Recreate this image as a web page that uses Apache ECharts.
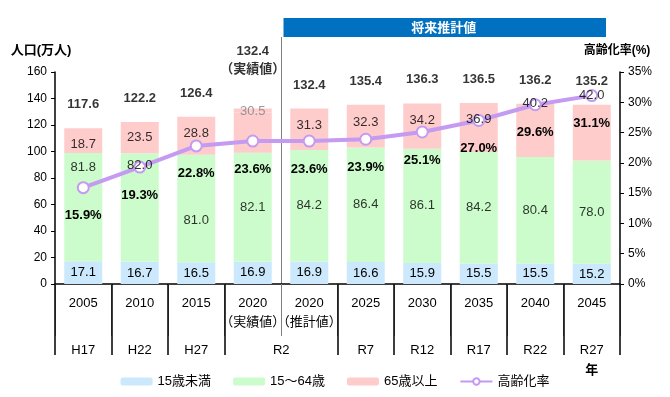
<!DOCTYPE html>
<html>
<head>
<meta charset="utf-8">
<script src="https://cdn.jsdelivr.net/npm/echarts@6/dist/echarts.min.js"></script>
<style>
  html, body { margin: 0; padding: 0; background: #fff; }
  #chart { width: 670px; height: 397px; }
</style>
</head>
<body>
<div id="chart"></div>
<script>
// 年次（西暦）と元号
const years = ["2005", "2010", "2015", "2020\n（実績値）", "2020\n（推計値）", "2025", "2030", "2035", "2040", "2045"];
const eras = ["H17", "H22", "H27", "R2", "", "R7", "R12", "R17", "R22", "R27"];

// 人口（万人）
const young = [17.1, 16.7, 16.5, 16.9, 16.9, 16.6, 15.9, 15.5, 15.5, 15.2];   // 15歳未満
const working = [81.8, 82.0, 81.0, 82.1, 84.2, 86.4, 86.1, 84.2, 80.4, 78.0]; // 15～64歳
const aged = [18.7, 23.5, 28.8, 30.5, 31.3, 32.3, 34.2, 36.9, 40.2, 42.0];    // 65歳以上
const unknown = [0, 0, 0, 2.9, 0, 0, 0, 0, 0, 0];                             // 年齢不詳
const totals = [117.6, 122.2, 126.4, 132.4, 132.4, 135.4, 136.3, 136.5, 136.2, 135.2];

// 高齢化率（%）
const agingRate = [15.9, 19.3, 22.8, 23.6, 23.6, 23.9, 25.1, 27.0, 29.6, 31.1];

const FONT = '"Liberation Sans", "Noto Sans CJK JP", sans-serif';
const BLUE = "#cce8fc", GREEN = "#ccfccc", PINK = "#ffcccc", PURPLE = "#c49af2";

// ラベル位置の微調整（元図に合わせる, px）
const workingDy = [-40, -42, 12, 0, 0, 0, 0, 0, 0, 0];
const agedDy = [4, 0, -2, -21, -4, -4, -6, -8, -27, -37];

const chart = echarts.init(document.getElementById("chart"));
const fmt1 = v => Number(v).toFixed(1);

// 折れ線より手前に出すラベル用（各区間の中央に置く）
function midLabelSeries(name, mids, texts, dys, colorOf) {
  return {
    name: name, type: "scatter", symbolSize: 1, z: 6,
    itemStyle: { color: "transparent" },
    label: { show: true, position: "inside", fontSize: 13, color: "#000" },
    data: mids.map((m, i) => ({
      value: m,
      label: {
        formatter: fmt1(texts[i]),
        offset: [0, dys[i]],
        color: colorOf ? colorOf(i) : "#000"
      }
    }))
  };
}

chart.setOption({
  animation: false,
  textStyle: { fontFamily: FONT },
  grid: { left: 55, right: 50, top: 72, bottom: 113, containLabel: false },
  legend: {
    data: ["15歳未満", "15～64歳", "65歳以上", "高齢化率"],
    top: 370,
    left: "center",
    itemWidth: 32,
    itemHeight: 8,
    itemGap: 22,
    textStyle: { fontSize: 13, color: "#000", fontFamily: FONT }
  },
  xAxis: [
    {
      type: "category",
      data: years,
      axisLine: { lineStyle: { color: "#000", width: 1.5 } },
      axisTick: { show: true, interval: 0, length: 52, lineStyle: { color: "#808080", width: 1 } },
      axisLabel: { interval: 0, margin: 10, fontSize: 13, color: "#000", lineHeight: 19 }
    },
    {
      type: "category",
      position: "bottom",
      data: eras.map((e, i) => i === 3 ? { value: e, textStyle: { padding: [0, 0, 0, 57] } } : e),
      axisLine: { show: false },
      axisTick: {
        show: true,
        interval: i => i !== 4,
        length: 71,
        lineStyle: { color: "#000", width: 1.5 }
      },
      axisLabel: {
        interval: 0,
        margin: 56,
        fontSize: 13,
        color: "#000",
        lineHeight: 20,
        formatter: (v, i) => i === 9 ? v + "\n{n|年}" : v,
        rich: { n: { fontSize: 13, fontWeight: "bold", color: "#000", lineHeight: 20 } }
      }
    }
  ],
  yAxis: [
    {
      type: "value",
      min: 0, max: 160, interval: 20,
      name: "人口(万人)",
      nameGap: 15,
      nameTextStyle: { fontSize: 13, fontWeight: "bold", color: "#000", align: "center", padding: [0, 28, 0, 0] },
      axisLine: { show: true, lineStyle: { color: "#000", width: 1.5 } },
      axisTick: { show: true, length: 4, lineStyle: { color: "#000" } },
      axisLabel: { fontSize: 12, color: "#000", margin: 8 },
      splitLine: { show: false }
    },
    {
      type: "value",
      min: 0, max: 35, interval: 5,
      name: "高齢化率(%)",
      nameGap: 15,
      nameTextStyle: { fontSize: 12, fontWeight: "bold", color: "#000", align: "center", padding: [0, 6, 0, 0] },
      axisLine: { show: true, lineStyle: { color: "#000", width: 1.5 } },
      axisTick: { show: true, length: 4, lineStyle: { color: "#000" } },
      axisLabel: { fontSize: 12, color: "#000", margin: 8, formatter: "{value}%" },
      splitLine: { show: false }
    }
  ],
  series: [
    {
      name: "15歳未満", type: "bar", stack: "pop", barWidth: 38,
      itemStyle: { color: BLUE },
      label: { show: true, position: "inside", fontSize: 13, color: "#000", formatter: p => fmt1(p.value) },
      data: young
    },
    { name: "15～64歳", type: "bar", stack: "pop", barWidth: 38, itemStyle: { color: GREEN }, data: working },
    { name: "65歳以上", type: "bar", stack: "pop", barWidth: 38, itemStyle: { color: PINK }, data: aged },
    { name: "不詳", type: "bar", stack: "pop", barWidth: 38, itemStyle: { color: PINK }, data: unknown },
    midLabelSeries("15～64歳ラベル", working.map((v, i) => young[i] + v / 2), working, workingDy),
    midLabelSeries("65歳以上ラベル", aged.map((v, i) => young[i] + working[i] + v / 2), aged, agedDy,
      i => i === 3 ? "#808080" : "#000"),
    {
      name: "総人口", type: "scatter", symbolSize: 1, z: 6,
      itemStyle: { color: "transparent" },
      label: {
        show: true, position: "top", distance: 14,
        fontSize: 13, fontWeight: "bold", color: "#000", lineHeight: 18,
        formatter: p => p.dataIndex === 3 ? fmt1(p.value) + "\n（実績値）" : fmt1(p.value)
      },
      data: totals.map((v, i) => i === 3 ? { value: v, label: { distance: 30 } } : v)
    },
    {
      name: "高齢化率", type: "line", yAxisIndex: 1,
      symbol: "circle", symbolSize: 11,
      lineStyle: { color: PURPLE, width: 4 },
      itemStyle: { color: "#fff", borderColor: PURPLE, borderWidth: 2 },
      label: {
        show: true, position: "bottom", distance: 15,
        fontSize: 13, fontWeight: "bold", color: "#000",
        formatter: p => fmt1(p.value) + "%"
      },
      data: agingRate,
      z: 4
    }
  ]
});

// 実績値と推計値の境界線・見出し
const c3 = chart.convertToPixel({ xAxisIndex: 0 }, 3);
const c4 = chart.convertToPixel({ xAxisIndex: 0 }, 4);
const sepX = Math.round((c3 + c4) / 2) + 0.5;
const zeroY = chart.convertToPixel({ yAxisIndex: 0 }, 0);
const rightX = chart.getWidth() - 50;

chart.setOption({
  graphic: [
    {
      type: "line",
      shape: { x1: sepX, y1: 37, x2: sepX, y2: zeroY },
      style: { stroke: "#808080", lineWidth: 1 }
    },
    {
      type: "rect",
      shape: { x: sepX + 2, y: 18, width: rightX - 14 - sepX - 2, height: 19 },
      style: { fill: "#0070c0" }
    },
    {
      type: "text",
      x: (sepX + rightX - 14) / 2, y: 28,
      style: {
        text: "将来推計値", fill: "#fff", font: "bold 13px " + FONT,
        textAlign: "center", textVerticalAlign: "middle"
      }
    }
  ]
});
</script>
</body>
</html>
